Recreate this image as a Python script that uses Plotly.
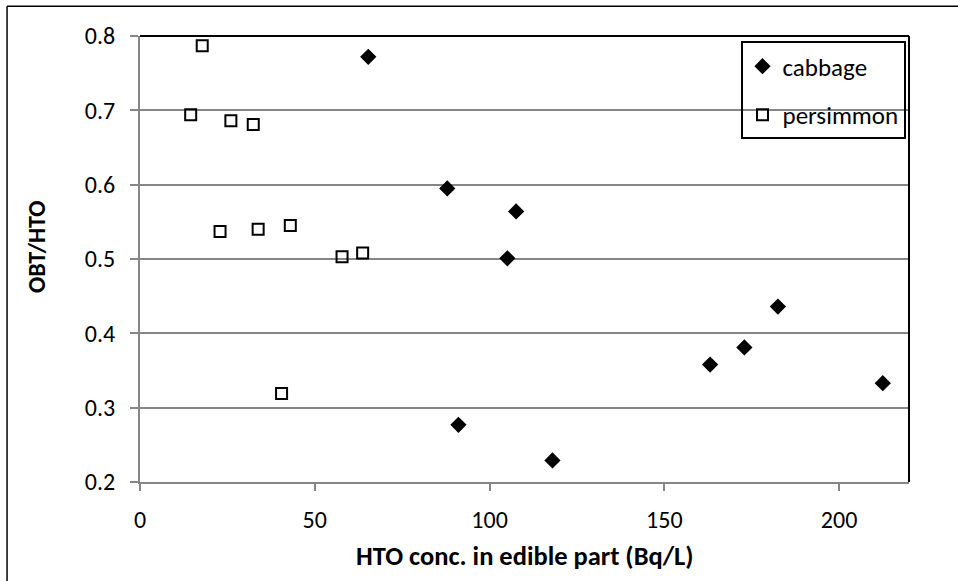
import plotly.graph_objects as go

cabbage_x = [65.3, 87.9, 107.6, 105.1, 91.1, 118.0, 163.1, 172.9, 182.5, 212.5]
cabbage_y = [0.772, 0.595, 0.564, 0.501, 0.277, 0.229, 0.358, 0.381, 0.436, 0.333]

persimmon_x = [17.8, 14.5, 26.0, 32.4, 22.9, 33.8, 43.0, 57.8, 63.7, 40.5]
persimmon_y = [0.787, 0.694, 0.686, 0.681, 0.537, 0.540, 0.545, 0.503, 0.508, 0.319]

x_ticks = [0, 50, 100, 150, 200]
y_ticks = [0.2, 0.3, 0.4, 0.5, 0.6, 0.7, 0.8]
y_labels = ["0.2", "0.3", "0.4", "0.5", "0.6", "0.7", "0.8"]

FONT = "Carlito, Lato, sans-serif"

fig = go.Figure()
fig.add_trace(go.Scatter(
    x=cabbage_x, y=cabbage_y, mode="markers", name="cabbage",
    legendgroup="a",
    marker=dict(symbol="diamond", size=12.5, color="black", line=dict(width=0)),
))
fig.add_trace(go.Scatter(
    x=persimmon_x, y=persimmon_y, mode="markers", name="persimmon",
    legendgroup="b",
    marker=dict(symbol="square-open", size=11, color="black", line=dict(width=2, color="black")),
))

L, R, T, B = 140, 48.7, 35.7, 98.5
W, H = 958, 581
pw = W - L - R
ph = H - T - B

fig.update_layout(
    width=W, height=H,
    margin=dict(l=L, r=R, t=T, b=B, pad=0),
    paper_bgcolor="white", plot_bgcolor="white",
    font=dict(family=FONT, size=24, color="black"),
    showlegend=True,
    legend=dict(
        x=1 - 3.5 / pw, y=1 - 5.5 / ph, xanchor="right", yanchor="top",
        bgcolor="rgba(0,0,0,0)", bordercolor="black", borderwidth=2,
        font=dict(family=FONT, size=25, color="black"),
        tracegroupgap=13, itemwidth=30,
    ),
    xaxis=dict(
        range=[0, 220], tickvals=x_ticks, ticktext=[str(v) for v in x_ticks],
        showgrid=False, zeroline=False, showline=True, linecolor="#868686", linewidth=2,
        ticks="outside", ticklen=7, tickcolor="#868686", tickwidth=1.5,
        tickfont=dict(family=FONT, size=24), ticklabelstandoff=8,
    ),
    yaxis=dict(
        range=[0.2, 0.8], tickvals=y_ticks, ticktext=y_labels,
        showgrid=True, gridcolor="#868686", gridwidth=1.5,
        zeroline=False, showline=True, linecolor="#868686", linewidth=2,
        ticks="outside", ticklen=8, tickcolor="#868686", tickwidth=1.5,
        tickfont=dict(family=FONT, size=24), ticklabelstandoff=10,
    ),
    shapes=[
        dict(type="line", xref="paper", yref="paper", x0=0, x1=1, y0=1, y1=1,
             line=dict(color="black", width=2)),
        dict(type="line", xref="paper", yref="paper", x0=1, x1=1, y0=0, y1=1,
             line=dict(color="black", width=2)),
        dict(type="line", xref="paper", yref="paper",
             x0=(7 - L) / pw, x1=(7 - L) / pw, y0=(H - B - 700) / ph, y1=1 + (T - 6) / ph,
             line=dict(color="black", width=1.5)),
        dict(type="line", xref="paper", yref="paper",
             x0=(7 - L) / pw, x1=(1000 - L) / pw, y0=1 + (T - 6) / ph, y1=1 + (T - 6) / ph,
             line=dict(color="black", width=1.5)),
    ],
    annotations=[
        dict(text="<b>HTO conc. in edible part (Bq/L)</b>", xref="paper", yref="paper",
             x=0.5, y=(H - B - 557) / ph, xanchor="center", yanchor="middle",
             showarrow=False, font=dict(family=FONT, size=26.5)),
        dict(text="<b>OBT/HTO</b>", xref="paper", yref="paper",
             x=(37 - L) / pw, y=(H - B - 247) / ph, xanchor="center", yanchor="middle",
             textangle=-90, showarrow=False, font=dict(family=FONT, size=24)),
    ],
)

fig.write_html("out.html", config={"displayModeBar": False},
               post_script="document.body.style.margin='0';document.body.style.overflow='hidden';")
